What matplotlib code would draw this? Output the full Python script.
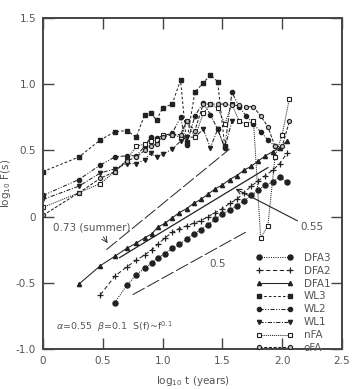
import matplotlib
matplotlib.use("Agg")
import matplotlib.pyplot as plt

# ---------------- data ----------------
up_x = [0.00, 0.30, 0.48, 0.60, 0.70, 0.78, 0.85, 0.90, 0.95, 1.00, 1.08, 1.15,
        1.20, 1.27, 1.34, 1.40, 1.46, 1.52, 1.58, 1.64, 1.70, 1.76, 1.82, 1.88,
        1.94, 2.00, 2.06]

wl3_y = [0.34, 0.45, 0.58, 0.64, 0.65, 0.60, 0.77, 0.78, 0.73, 0.82, 0.85, 1.03,
         0.56, 0.94, 1.01, 1.07, 1.02, 0.53]
wl2_y = [0.16, 0.28, 0.39, 0.45, 0.46, 0.46, 0.53, 0.60, 0.59, 0.61, 0.63, 0.75,
         0.54, 0.76, 0.86, 0.77, 0.66, 0.52, 0.94, 0.83, 0.76, 0.70, 0.64, 0.58,
         0.53]
wl1_y = [0.13, 0.23, 0.33, 0.36, 0.40, 0.40, 0.43, 0.48, 0.45, 0.47, 0.51, 0.57,
         0.60, 0.60, 0.66, 0.52, 0.66, 0.52, 0.72]
nfa_y = [0.07, 0.18, 0.25, 0.34, 0.43, 0.53, 0.55, 0.57, 0.58, 0.62, 0.62, 0.60,
         0.72, 0.60, 0.78, 0.85, 0.82, 0.70, 0.85, 0.72, 0.70, 0.72, -0.16, -0.07,
         0.45, 0.62, 0.89]
ofa_y = [0.01, 0.18, 0.29, 0.34, 0.42, 0.45, 0.50, 0.53, 0.55, 0.60, 0.62, 0.62,
         0.72, 0.65, 0.85, 0.85, 0.85, 0.85, 0.84, 0.84, 0.83, 0.83, 0.76, 0.68,
         0.53, 0.53, 0.72]

dfa1_x = [0.30, 0.48, 0.60, 0.70, 0.78, 0.85, 0.91, 0.96, 1.02, 1.08, 1.14, 1.20,
          1.26, 1.32, 1.38, 1.44, 1.50, 1.56, 1.62, 1.68, 1.74, 1.80, 1.86, 1.92,
          1.98, 2.04]
dfa1_y = [-0.51, -0.37, -0.30, -0.24, -0.20, -0.16, -0.13, -0.08, -0.05, -0.01,
          0.03, 0.06, 0.10, 0.13, 0.17, 0.21, 0.24, 0.28, 0.31, 0.35, 0.38, 0.42,
          0.46, 0.49, 0.52, 0.57]
dfa2_x = dfa1_x[1:]
dfa2_y = [-0.59, -0.45, -0.38, -0.33, -0.29, -0.25, -0.21, -0.16, -0.12, -0.09,
          -0.07, -0.05, -0.03, 0.00, 0.03, 0.06, 0.10, 0.13, 0.18, 0.23, 0.27,
          0.31, 0.35, 0.40, 0.48]
dfa3_x = dfa1_x[2:]
dfa3_y = [-0.65, -0.52, -0.44, -0.39, -0.35, -0.31, -0.28, -0.24, -0.21, -0.17,
          -0.13, -0.10, -0.06, -0.02, 0.02, 0.05, 0.08, 0.12, 0.16, 0.20, 0.24,
          0.26, 0.30, 0.26]

summer_x = [0.53, 1.56]
summer_y = [-0.25, 0.51]
fit055_x = [0.64, 1.88]
fit055_y = [-0.31, 0.37]
ref05_x = [0.75, 1.71]
ref05_y = [-0.59, -0.11]

xticks = [0, 0.5, 1.0, 1.5, 2.0, 2.5]
yticks = [-1.0, -0.5, 0, 0.5, 1.0, 1.5]
xtick_labels = ["0", "0.5", "1.0", "1.5", "2.0", "2.5"]
ytick_labels = ["-1.0", "-0.5", "0", "0.5", "1.0", "1.5"]

# ---------------- plot ----------------
fig = plt.figure(figsize=(3.59, 3.89), dpi=100)
ax = fig.add_axes([0.1198, 0.1028, 0.8328, 0.8509])

k = "#222222"
lw = 0.75
ms = 3.0

ax.plot(dfa3_x, dfa3_y, color=k, lw=lw, ls=(0, (1, 1.2)), marker="o", ms=ms + 0.6,
        label="DFA3")
ax.plot(dfa2_x, dfa2_y, color=k, lw=lw, ls=(0, (4, 2.5)), marker="+", ms=ms + 1,
        mew=0.9, label="DFA2")
ax.plot(dfa1_x, dfa1_y, color=k, lw=lw, ls="-", marker="^", ms=ms, label="DFA1")
ax.plot(up_x[:len(wl3_y)], wl3_y, color=k, lw=lw, ls=(0, (2.5, 2)), marker="s",
        ms=ms, label="WL3")
ax.plot(up_x[:len(wl2_y)], wl2_y, color=k, lw=lw, ls=(0, (4, 1.5, 1, 1.5, 1, 1.5)),
        marker="o", ms=ms, label="WL2")
ax.plot(up_x[:len(wl1_y)], wl1_y, color=k, lw=lw, ls=(0, (4, 1.5, 1, 1.5)),
        marker="v", ms=ms, label="WL1")
ax.plot(up_x[:len(nfa_y)], nfa_y, color=k, lw=lw, ls=(0, (1, 1)), marker="s",
        ms=ms - 0.3, mfc="white", mew=0.8, label="nFA")
ax.plot(up_x[:len(ofa_y)], ofa_y, color=k, lw=lw, ls=(0, (3, 1.5)), marker="o",
        ms=ms, mfc="#bbbbbb", mew=0.8, label="oFA")

ax.plot(summer_x, summer_y, color=k, lw=0.7, ls=(0, (14, 3)))
ax.plot(fit055_x, fit055_y, color=k, lw=0.9, ls="-")
ax.plot(ref05_x, ref05_y, color=k, lw=0.7, ls=(0, (14, 3)))

tc = "#555555"
ax.annotate("0.73 (summer)", xy=(0.54, -0.20), xytext=(0.08, -0.085),
            fontsize=7.5, color=tc, va="center",
            arrowprops=dict(arrowstyle="->", color=k, lw=0.6,
                            shrinkA=1, shrinkB=0, mutation_scale=10,
                            relpos=(0.62, 0.0)))
ax.annotate("0.55", xy=(1.61, 0.21), xytext=(2.15, -0.08),
            fontsize=7.5, color=tc, va="center",
            arrowprops=dict(arrowstyle="->", color=k, lw=0.8,
                            shrinkA=0, shrinkB=0, mutation_scale=9,
                            relpos=(0.0, 1.0)))
ax.text(1.39, -0.36, "0.5", fontsize=7.5, color=tc, va="center")
ax.text(0.11, -0.83, r"$\alpha$=0.55  $\beta$=0.1  S(f)~f$^{0.1}$",
        fontsize=6.8, color=tc, va="center")

ax.set_xlim(0, 2.5)
ax.set_ylim(-1.0, 1.5)
ax.set_xticks(xticks)
ax.set_xticklabels(xtick_labels)
ax.set_yticks(yticks)
ax.set_yticklabels(ytick_labels)
ax.tick_params(direction="in", length=8, width=1.0, colors="#444444",
               labelcolor=tc, labelsize=7.5, top=True, right=True, pad=5)
for s in ax.spines.values():
    s.set_linewidth(1.4)
    s.set_color("#444444")

ax.set_xlabel(r"log$_{10}$ t (years)", fontsize=7.5, color=tc, labelpad=6)
ax.set_ylabel(r"log$_{10}$ F(s)", fontsize=7.5, color=tc, labelpad=2)

leg = ax.legend(loc="lower right", bbox_to_anchor=(0.975, -0.025), frameon=False,
                fontsize=7.5, handlelength=3.6, handletextpad=1.0,
                labelspacing=0.28, numpoints=2, borderaxespad=0)
for t in leg.get_texts():
    t.set_color(tc)

fig.savefig("out.png", dpi=100)
